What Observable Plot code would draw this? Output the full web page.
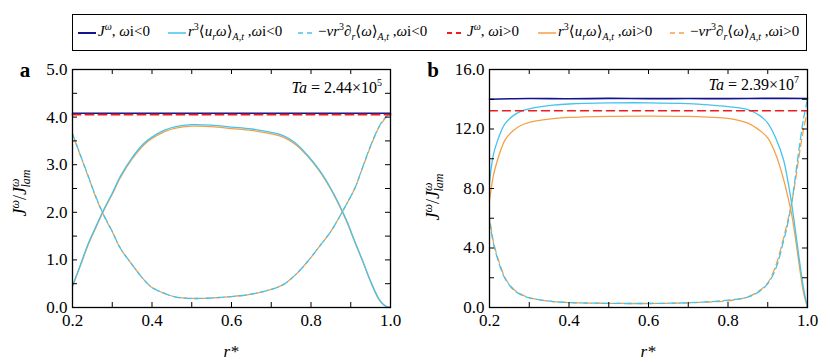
<!DOCTYPE html>
<html><head><meta charset="utf-8">
<script src="https://cdn.jsdelivr.net/npm/d3@7"></script>
<script src="https://cdn.jsdelivr.net/npm/@observablehq/plot@0.6"></script>
<style>
body{margin:0;background:#fff;}
#wrap{position:relative;width:830px;height:362px;font-family:"Liberation Serif","Tinos","Times New Roman","Nimbus Roman","DejaVu Serif",serif;color:#000;overflow:hidden;}
#legend{position:absolute;left:72px;top:14px;width:735px;height:37px;border:1.3px solid #000;box-sizing:border-box;font-size:15px;}
.item{position:absolute;top:9px;white-space:nowrap;line-height:15px;}
.item svg{vertical-align:middle;margin-right:2px;}
.item sup{font-size:10px;vertical-align:6px;line-height:0;}
.item sub{font-size:10px;vertical-align:-4px;line-height:0;}
#pa{position:absolute;left:0;top:55px;}
#pb{position:absolute;left:415px;top:55px;}
#test{position:absolute;left:0;top:0;font-size:1px;color:#fff;}
</style></head>
<body><div id="wrap">
<div id="legend"></div>
<div id="pa"></div>
<div id="pb"></div>
</div>
<script>
// ---------- data ----------
const rA = [0.2,0.22,0.24,0.26,0.28,0.3,0.32,0.35,0.38,0.4,0.43,0.46,0.5,0.55,0.6,0.65,0.7,0.73,0.76,0.79,0.82,0.85,0.87,0.89,0.91,0.93,0.95,0.97,0.98,0.99,1.0];
const convA_neg = [0.45,0.9,1.35,1.72,2.08,2.4,2.75,3.15,3.45,3.58,3.72,3.8,3.84,3.83,3.79,3.75,3.68,3.61,3.46,3.21,2.9,2.5,2.18,1.82,1.39,0.98,0.55,0.19,0.08,0.02,0.0];
const condA_neg = [3.65,3.2,2.75,2.3,1.92,1.6,1.25,0.9,0.58,0.42,0.3,0.22,0.19,0.2,0.23,0.28,0.38,0.48,0.68,0.95,1.27,1.6,1.88,2.18,2.5,2.95,3.4,3.78,3.92,4.02,4.06];
const convA_pos = [0.44,0.88,1.33,1.7,2.06,2.38,2.72,3.12,3.42,3.55,3.69,3.77,3.81,3.8,3.76,3.72,3.65,3.58,3.43,3.19,2.88,2.48,2.16,1.8,1.38,0.97,0.54,0.18,0.08,0.02,0.0];
const condA_pos = [3.63,3.19,2.74,2.29,1.91,1.59,1.25,0.9,0.58,0.42,0.3,0.22,0.19,0.2,0.23,0.28,0.38,0.48,0.68,0.95,1.27,1.6,1.88,2.18,2.5,2.94,3.39,3.77,3.9,4.0,4.04];
const rJA = [0.2,1.0];
const JA_neg = [4.08,4.08];
const JA_pos = [4.05,4.05];

const rB = [0.2,0.205,0.21,0.22,0.23,0.24,0.26,0.28,0.3,0.33,0.36,0.4,0.5,0.6,0.7,0.75,0.8,0.85,0.88,0.9,0.92,0.94,0.95,0.96,0.97,0.98,0.99,1.0];
const convB_neg = [8.4,9.5,10.3,11.2,11.9,12.4,12.9,13.2,13.35,13.5,13.6,13.68,13.75,13.76,13.7,13.62,13.5,13.3,12.9,12.4,11.4,9.9,8.6,7.0,5.1,3.1,1.3,0.0];
const condB_neg = [5.8,5.0,4.3,3.3,2.5,1.9,1.2,0.85,0.65,0.5,0.4,0.33,0.28,0.27,0.32,0.38,0.5,0.7,1.1,1.6,2.6,4.5,5.6,7.0,8.9,10.9,12.7,14.0];
const convB_pos = [7.2,8.1,8.9,9.9,10.7,11.3,11.9,12.25,12.45,12.6,12.7,12.78,12.85,12.87,12.85,12.8,12.72,12.4,11.9,11.4,10.3,8.6,7.5,6.3,4.6,2.7,1.0,0.0];
const condB_pos = [6.0,5.2,4.4,3.4,2.6,1.95,1.25,0.88,0.67,0.5,0.4,0.33,0.28,0.27,0.31,0.37,0.45,0.72,1.15,1.65,2.8,4.7,5.8,7.0,8.6,10.4,12.0,13.2];
const rJB = [0.2,0.3,0.4,0.5,0.6,0.7,0.8,0.9,1.0];
const JB_neg = [14.0,14.05,14.03,14.06,14.04,14.05,14.04,14.06,14.05];
const JB_pos = [13.22,13.22,13.22,13.22,13.22,13.22,13.22,13.22,13.22];

const xTickLabels = [0.2,0.4,0.6,0.8,1.0];
const xTicksAll = [0.2,0.3,0.4,0.5,0.6,0.7,0.8,0.9,1.0];
const yTickLabelsA = [0,1,2,3,4,5];
const yTicksAllA = [0,0.5,1,1.5,2,2.5,3,3.5,4,4.5,5];
const yTickLabelsB = [0,4,8,12,16];
const yTicksAllB = [0,2,4,6,8,10,12,14,16];

// ---------- styles ----------
const FONT = '"Liberation Serif","Tinos","Times New Roman","Nimbus Roman","DejaVu Serif",serif';
const C = {blue:"#14148c", cyan:"#45c3ec", orange:"#f6a045", red:"#ee1c1c"};

const zip = (xs, ys) => xs.map((x,i)=>({r:x, v:ys[i]}));

function panel(opts){
  const {width, marginLeft, marginRight, yDomain, yLab, yAll, series, ta, taExp} = opts;
  const height = 307, marginTop = 14, marginBottom = 55;
  const fw = width - marginLeft - marginRight, fh = height - marginTop - marginBottom;
  const t = 5;
  const marks = [
    ...series.map(s => Plot.line(s.data, {x:"r", y:"v", stroke:s.color, strokeWidth:s.w||1.3,
        strokeDasharray:s.dash||null, strokeDashoffset:s.off||0, curve:"catmull-rom"})),
    Plot.ruleY(yAll, {y:d=>d, insetRight: fw - t, stroke:"#000", strokeWidth:1}),
    Plot.ruleY(yAll, {y:d=>d, insetLeft: fw - t, stroke:"#000", strokeWidth:1}),
    Plot.ruleX(xTicksAll, {x:d=>d, insetTop: fh - t, stroke:"#000", strokeWidth:1}),
    Plot.ruleX(xTicksAll, {x:d=>d, insetBottom: fh - t, stroke:"#000", strokeWidth:1}),
    Plot.frame({stroke:"#000", strokeWidth:1.3})
  ];
  const svg = Plot.plot({
    width, height, marginTop, marginBottom, marginLeft, marginRight,
    style:{fontFamily:FONT, fontSize:"17px", color:"#000", background:"transparent", overflow:"visible"},
    x:{domain:[0.2,1.0], ticks:xTickLabels, tickSize:0, tickPadding:6, tickFormat:d3.format(".1f"), label:null},
    y:{domain:yDomain, ticks:yLab, tickSize:0, tickPadding:5, tickFormat:d3.format(".1f"), label:null},
    marks
  });
  const g = d3.select(svg);
  g.selectAll("text").style("font-family", FONT);
  // Ta annotation
  const ta_t = g.append("text").attr("x", marginLeft + fw - 8).attr("y", opts.taY).attr("text-anchor","end")
    .attr("font-size", 16).attr("fill","#000").style("font-family", FONT);
  ta_t.append("tspan").attr("font-style","italic").text("Ta");
  ta_t.append("tspan").text(" = " + ta + "×10");
  ta_t.append("tspan").attr("font-size",10).attr("dy",-7).text(taExp);
  // y label
  const yl = g.append("text").attr("transform", `translate(${opts.yLabX},${opts.yLabY}) rotate(-90)`)
    .attr("text-anchor","middle").attr("font-size",18).attr("fill","#000").style("font-family", FONT);
  yl.append("tspan").attr("font-style","italic").text("J");
  yl.append("tspan").attr("font-size",12).attr("dy",-7).attr("font-style","italic").text("ω");
  yl.append("tspan").attr("dy",7).text("/");
  yl.append("tspan").attr("font-style","italic").text("J");
  yl.append("tspan").attr("font-size",12).attr("dy",-7).attr("font-style","italic").text("ω");
  yl.append("tspan").attr("font-size",12).attr("dx",-9).attr("dy",11).attr("font-style","italic").text("lam");
  // x label
  g.append("text").attr("x", marginLeft + fw/2).attr("y", 302).attr("text-anchor","middle").style("font-family", FONT)
    .attr("font-size",17).attr("font-style","italic").attr("fill","#000").text("r*");
  // panel letter
  g.append("text").attr("x", opts.letterX).attr("y", 22).attr("text-anchor","middle").style("font-family", FONT)
    .attr("font-size",21).attr("font-weight","bold").attr("fill","#000").text(opts.letter);
  return svg;
}

const pa = panel({
  width:400, marginLeft:72, marginRight:10, yDomain:[0,5], yLab:yTickLabelsA, yAll:yTicksAllA,
  ta:"2.44", taExp:"5", taY:38, yLabX:26, yLabY:138, letter:"a", letterX:25,
  series:[
    {data:zip(rA,condA_pos), color:C.orange, dash:"7,4", off:5},
    {data:zip(rA,condA_neg), color:C.cyan, dash:"7,4"},
    {data:zip(rA,convA_pos), color:C.orange},
    {data:zip(rA,convA_neg), color:C.cyan},
    {data:zip(rJA,JA_neg), color:C.blue, w:1.6},
    {data:zip(rJA,JA_pos), color:C.red, dash:"8,5", w:1.8}
  ]
});
document.getElementById("pa").appendChild(pa);

const pb = panel({
  width:415, marginLeft:74, marginRight:23, yDomain:[0,16], yLab:yTickLabelsB, yAll:yTicksAllB,
  ta:"2.39", taExp:"7", taY:35, yLabX:24, yLabY:142, letter:"b", letterX:18,
  series:[
    {data:zip(rB,condB_pos), color:C.orange, dash:"7,4", off:5},
    {data:zip(rB,condB_neg), color:C.cyan, dash:"7,4"},
    {data:zip(rB,convB_pos), color:C.orange},
    {data:zip(rB,convB_neg), color:C.cyan},
    {data:zip(rJB,JB_neg), color:C.blue, w:1.6},
    {data:zip(rJB,JB_pos), color:C.red, dash:"8,5", w:1.5}
  ]
});
document.getElementById("pb").appendChild(pb);

// ---------- legend ----------
const conv = '<i>r</i><sup>3</sup>⟨<i>u</i><sub><i>r</i></sub><i>ω</i>⟩<sub><i>A,t</i></sub>';
const cond = '−<i>νr</i><sup>3</sup>∂<sub><i>r</i></sub>⟨<i>ω</i>⟩<sub><i>A,t</i></sub>';
const J = '<i>J</i><sup><i>ω</i></sup>';
const legendItems = [
  {left:5, color:C.blue, dash:null, w:2, html:J + ', <i>ω</i>i&lt;0'},
  {left:95, color:C.cyan, dash:null, w:1.5, html:conv + ' ,<i>ω</i>i&lt;0'},
  {left:225, color:C.cyan, dash:"5,4", w:1.5, html:cond + ' ,<i>ω</i>i&lt;0'},
  {left:374, color:C.red, dash:"5,4", w:2, html:J + ', <i>ω</i>i&gt;0'},
  {left:465, color:C.orange, dash:null, w:1.5, html:conv + ' ,<i>ω</i>i&gt;0'},
  {left:597, color:C.orange, dash:"5,4", w:1.5, html:cond + ' ,<i>ω</i>i&gt;0'}
];
const leg = document.getElementById("legend");
legendItems.forEach(it => {
  const d = document.createElement("div");
  d.className = "item";
  d.style.left = it.left + "px";
  d.innerHTML = `<svg width="18" height="8"><line x1="0" y1="4" x2="18" y2="4" stroke="${it.color}" stroke-width="${it.w}" ${it.dash?`stroke-dasharray="${it.dash}"`:""}/></svg>` + it.html;
  leg.appendChild(d);
});
</script>
</body></html>
